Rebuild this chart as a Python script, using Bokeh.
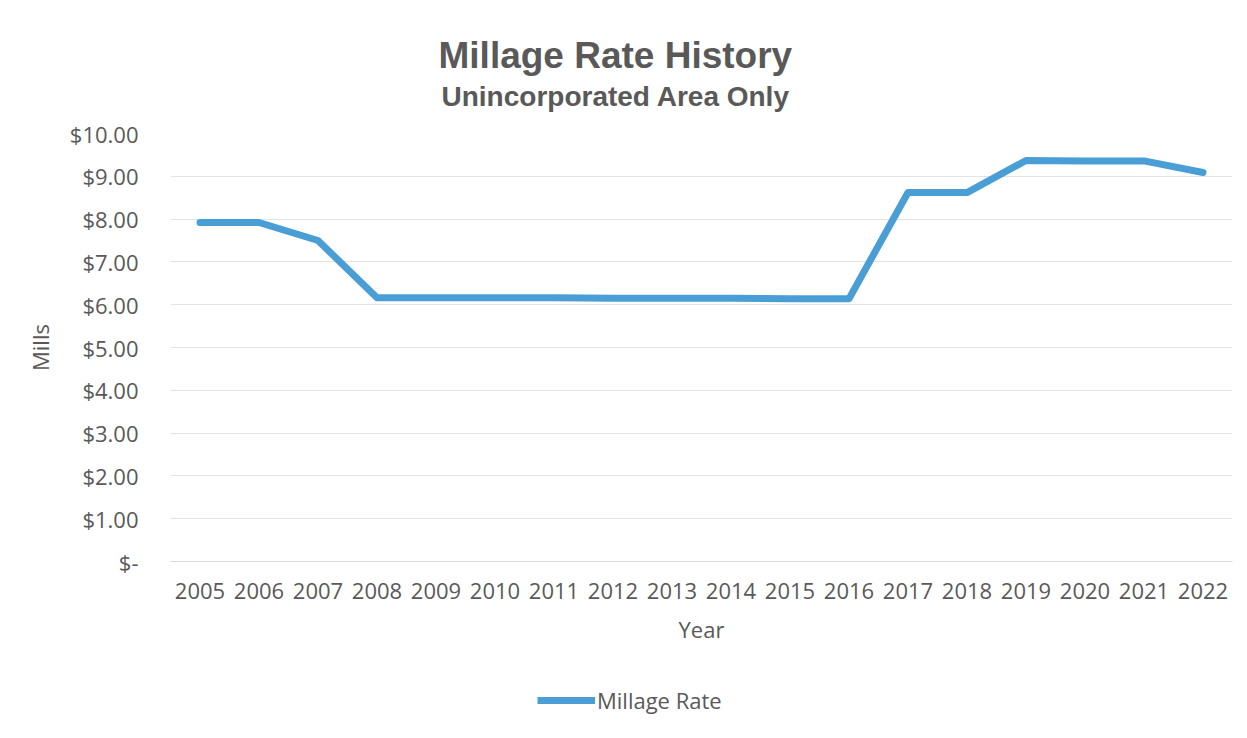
from bokeh.plotting import figure
from bokeh.models import Legend, LegendItem, FixedTicker, ColumnDataSource, Title
from bokeh.layouts import column
from bokeh.embed import file_html
from bokeh.resources import INLINE

years = ["2005", "2006", "2007", "2008", "2009", "2010", "2011", "2012", "2013",
         "2014", "2015", "2016", "2017", "2018", "2019", "2020", "2021", "2022"]
millage = [7.92, 7.92, 7.50, 6.16, 6.16, 6.16, 6.16, 6.15, 6.15,
           6.15, 6.14, 6.14, 8.62, 8.62, 9.37, 9.36, 9.36, 9.09]
y_ticks = [0, 1, 2, 3, 4, 5, 6, 7, 8, 9, 10]
y_tick_labels = ["$-", "$1.00", "$2.00", "$3.00", "$4.00", "$5.00",
                 "$6.00", "$7.00", "$8.00", "$9.00", "$10.00"]

FONT = "Open Sans"
GREY = "#595959"
BLUE = "#4A9ED6"

p = figure(width=1239, height=660, x_range=years, y_range=(0, 10),
           output_backend="svg", toolbar_location=None, title=None,
           min_border_left=170, min_border_right=7, min_border_top=133,
           min_border_bottom=99)
p.x_range.range_padding = 0
p.outline_line_color = None

src = ColumnDataSource(dict(x=years, y=millage))
r = p.line("x", "y", source=src, line_color=BLUE, line_width=7,
           line_join="round", line_cap="round")

p.yaxis.ticker = FixedTicker(ticks=y_ticks)
p.yaxis.major_label_overrides = {t: l for t, l in zip(y_ticks, y_tick_labels)}
p.yaxis.axis_line_color = None
p.yaxis.major_tick_line_color = None
p.yaxis.minor_tick_line_color = None
p.yaxis.major_label_text_font = FONT
p.yaxis.major_label_text_font_size = "22px"
p.yaxis.major_label_text_color = GREY
p.yaxis.major_label_standoff = 26
p.yaxis.axis_label = "Mills"
p.yaxis.axis_label_text_font = FONT
p.yaxis.axis_label_text_font_size = "22px"
p.yaxis.axis_label_text_font_style = "normal"
p.yaxis.axis_label_text_color = GREY
p.yaxis.axis_label_standoff = 12

p.xaxis.axis_line_color = "#d9d9d9"
p.xaxis.major_tick_line_color = None
p.xaxis.minor_tick_line_color = None
p.xaxis.major_label_text_font = FONT
p.xaxis.major_label_text_font_size = "22px"
p.xaxis.major_label_text_color = GREY
p.xaxis.major_label_standoff = 15
p.xaxis.axis_label = "Year"
p.xaxis.axis_label_text_font = FONT
p.xaxis.axis_label_text_font_size = "22px"
p.xaxis.axis_label_text_font_style = "normal"
p.xaxis.axis_label_text_color = GREY
p.xaxis.axis_label_standoff = 12

p.xgrid.grid_line_color = None
p.ygrid.grid_line_color = "#e3e3e3"
p.ygrid.grid_line_width = 1

p.add_layout(Title(text="Unincorporated Area Only", align="left", offset=271,
                   text_font="Liberation Sans", text_font_style="bold",
                   text_font_size="28px", text_color=GREY, standoff=44), "above")
p.add_layout(Title(text="Millage Rate History", align="left", offset=268,
                   text_font="Liberation Sans", text_font_style="bold",
                   text_font_size="37px", text_color=GREY, standoff=-38), "above")

# legend strip below the chart
p2 = figure(width=1239, height=70, x_range=years, y_range=(0, 10),
            output_backend="svg", toolbar_location=None,
            x_axis_type=None, y_axis_type=None,
            min_border_left=0, min_border_right=0, min_border_top=0,
            min_border_bottom=0)
p2.outline_line_color = None
p2.xgrid.grid_line_color = None
p2.ygrid.grid_line_color = None
r2 = p2.line("x", "y", source=src, line_color=BLUE, line_width=7, visible=False)

legend = Legend(items=[LegendItem(label="Millage Rate", renderers=[r2])],
                location=(367, 15), orientation="horizontal",
                label_text_font=FONT, label_text_font_size="22px",
                label_text_color=GREY, glyph_width=58, label_standoff=2,
                padding=0, margin=0,
                background_fill_alpha=0, border_line_color=None)
p2.add_layout(legend, "center")

layout = column(p, p2, spacing=0)
open("out.html", "w").write(file_html(layout, INLINE))
